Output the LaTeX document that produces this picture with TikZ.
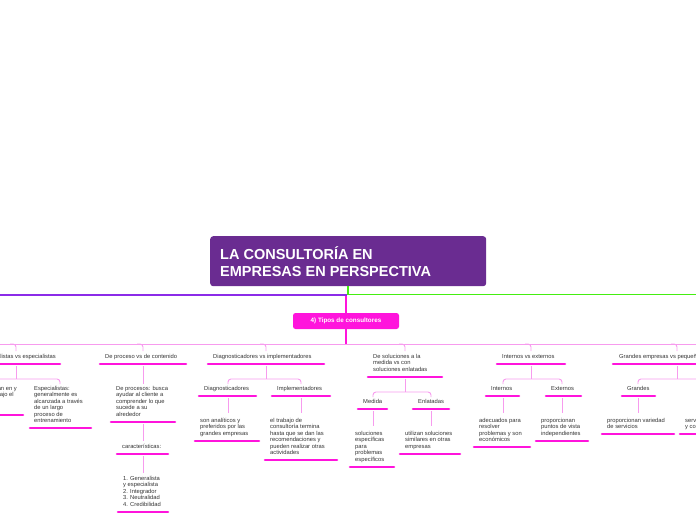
\documentclass[tikz,border=0pt]{standalone}
\usepackage{fontspec}
\setmainfont{Liberation Sans}
\definecolor{purp}{HTML}{6A2C91}
\definecolor{mag}{HTML}{FF14DC}
\definecolor{lpink}{HTML}{F79BEE}
\definecolor{txt}{HTML}{333333}
\definecolor{grn}{HTML}{44EE11}
\definecolor{vio}{HTML}{8B2BE8}
\begin{document}
\begin{tikzpicture}[x=1pt,y=-1pt,
 t/.style={anchor=north west,inner sep=0pt,align=left,font=\fontsize{5.8}{6.5}\selectfont,text=txt},
 ul/.style={draw=mag,line width=2.6pt,line cap=round},
 br/.style={draw=lpink,line width=0.9pt,rounded corners=3pt}]
\useasboundingbox (0,0) rectangle (696,520);
\clip (0,0) rectangle (696,520);
% title
\node[fill=purp,rounded corners=3pt,minimum width=276pt,minimum height=50pt,anchor=north west,inner sep=0pt] (title) at (210,236) {};
\node[anchor=west,align=left,inner sep=0pt,text=white,font=\bfseries\fontsize{14.5}{17}\selectfont] (tt) at (220,262) {LA CONSULTORÍA EN\\EMPRESAS EN PERSPECTIVA};
\draw[grn,line width=1.2pt] (348,286) -- (348,294.5) -- (700,294.5);
\draw[vio,line width=1.2pt] (347,295) -- (-5,295);
% sub node
\node[fill=mag,rounded corners=2.5pt,minimum width=106pt,minimum height=16pt,inner sep=0pt,text=white,font=\bfseries\fontsize{6.3}{7}\selectfont] (sub) at (346,321) {4) Tipos de consultores};
\draw[mag,line width=1.2pt] (346,296) -- (sub.north);
\draw[mag,line width=1.2pt] (sub.south) -- (346,344);
\draw[br] (-5,344) -- (700,344);
\foreach \x in {16,143,266,405,531,677} \draw[br] (\x-6,344) -- (\x,344) -- (\x,351);
% level 1
\node[t,anchor=north east] (g) at (56,354) {Generalistas vs especialistas}; \draw[ul] (0,364)--(60,364);
\node[t] (p) at (105,354) {De proceso vs de contenido}; \draw[ul] (100,364)--(186,364);
\node[t] (d) at (213,354) {Diagnosticadores vs implementadores}; \draw[ul] (208,364)--(324,364);
\node[t] (s) at (373,354) {De soluciones a la\\medida vs con\\soluciones enlatadas}; \draw[ul] (368,377)--(442,377);
\node[t] (ie) at (502,354) {Internos vs externos}; \draw[ul] (497,364)--(565,364);
\node[t] (ge) at (619,354) {Grandes empresas vs pequeñas empresas}; \draw[ul] (613,364)--(700,364);
% col1
\draw[br] (16,366) -- (16,379); \draw[br] (-5,379) -- (60,379) -- (60,384);
\node[t,anchor=north east] (g1) at (17,386) {Generalistas: se basan en y\\la experiencia en trabajo el\\\\cualitativos}; \draw[ul] (0,415)--(23,415);
\node[t] (g2) at (34,386) {Especialistas:\\generalmente es\\alcanzada a través\\de un largo\\proceso de\\entrenamiento}; \draw[ul] (30,428)--(91,428);
% col2
\draw[br] (143,366) -- (143,384);
\node[t] (p1) at (116,386) {De procesos: busca\\ayudar al cliente a\\comprender lo que\\sucede a su\\alrededor}; \draw[ul] (111,422)--(175,422);
\draw[br] (143,424) -- (143,441);
\node[t] (p2) at (122,444) {características:}; \draw[ul] (117,454)--(168,454);
\draw[br] (143,456) -- (143,473);
\node[t] (p3) at (123,476) {1. Generalista\\y especialista\\2. Integrador\\3. Neutralidad\\4. Credibilidad}; \draw[ul] (118,512)--(168,512);
% col3
\draw[br] (266,366) -- (266,379); \draw[br] (228,384) -- (228,379) -- (301,379) -- (301,384);
\node[t] (d1) at (204,386) {Diagnosticadores}; \draw[ul] (199,396)--(256,396);
\node[t] (d2) at (277,386) {Implementadores}; \draw[ul] (272,396)--(330,396);
\draw[br] (228,398) -- (228,413); \draw[br] (301,398) -- (301,413);
\node[t] (d11) at (200,418) {son analíticos y\\preferidos por las\\grandes empresas}; \draw[ul] (195,441)--(259,441);
\node[t] (d21) at (270,418) {el trabajo de\\consultoría termina\\hasta que se dan las\\recomendaciones y\\pueden realizar otras\\actividades}; \draw[ul] (265,460)--(337,460);
% col4
\draw[br] (405,379) -- (405,392); \draw[br] (373,397) -- (373,392) -- (431,392) -- (431,397);
\node[t] (s1) at (363,399) {Medida}; \draw[ul] (358,409)--(387,409);
\node[t] (s2) at (418,399) {Enlatadas}; \draw[ul] (413,409)--(449,409);
\draw[br] (373,411) -- (373,426); \draw[br] (431,411) -- (431,426);
\node[t] (s11) at (355,431) {soluciones\\específicas\\para\\problemas\\específicos}; \draw[ul] (350,467)--(394,467);
\node[t] (s21) at (405,431) {utilizan soluciones\\similares en otras\\empresas}; \draw[ul] (400,454)--(460,454);
% col5
\draw[br] (531,366) -- (531,379); \draw[br] (503,384) -- (503,379) -- (562,379) -- (562,384);
\node[t] (i1) at (491,386) {Internos}; \draw[ul] (486,396)--(519,396);
\node[t] (i2) at (551,386) {Externos}; \draw[ul] (546,396)--(581,396);
\draw[br] (503,398) -- (503,413); \draw[br] (562,398) -- (562,413);
\node[t] (i11) at (479,418) {adecuados para\\resolver\\problemas y son\\económicos}; \draw[ul] (474,447)--(530,447);
\node[t] (i21) at (541,418) {proporcionan\\puntos de vista\\independientes}; \draw[ul] (536,441)--(588,441);
% col6
\draw[br] (677,366) -- (677,379); \draw[br] (638,384) -- (638,379) -- (700,379);
\node[t] (e1) at (627,386) {Grandes}; \draw[ul] (622,396)--(655,396);
\draw[br] (638,398) -- (638,413);
\node[t] (e11) at (607,418) {proporcionan variedad\\de servicios}; \draw[ul] (602,434)--(674,434);
\node[t] (e21) at (685,418) {servicios\\y costos}; \draw[ul] (680,434)--(700,434);
\end{tikzpicture}
\end{document}
